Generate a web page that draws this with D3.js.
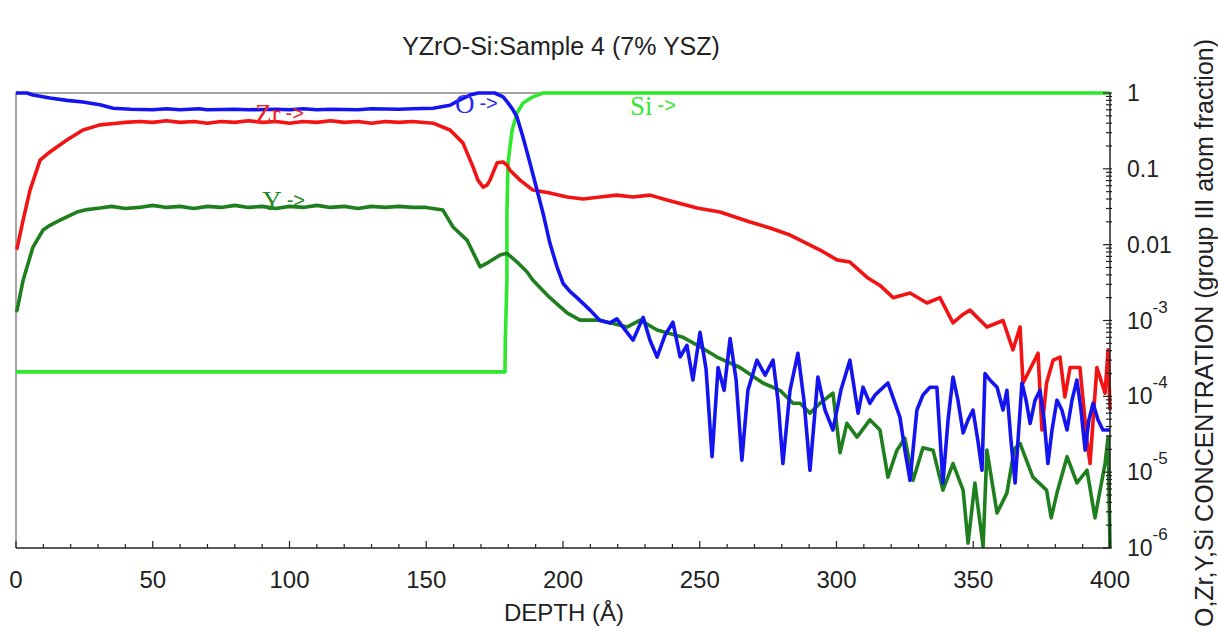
<!DOCTYPE html>
<html>
<head>
<meta charset="utf-8">
<style>
    body { margin: 0; background: #fff; }
    svg { display: block; font-family: "Liberation Sans", Arial, sans-serif; }
</style>
</head>
<body>
<svg width="1218" height="634"></svg>
<script src="https://cdn.jsdelivr.net/npm/d3@7"></script>
<script>
    // depth (Å), concentration (atom fraction)
    var oxygen = [[0,1.0],[4,1.0],[6.2,0.94],[12.4,0.86],[18.6,0.8],[24.5,0.76],[30.7,0.7],[35.5,0.63],[42,0.61],[50,0.6],[55,0.62],
        [60,0.6],[67,0.62],[70,0.6],[80,0.61],[85,0.6],[95,0.61],[100,0.6],[105,0.62],[110,0.6],[115,0.61],[125,0.6],[130,0.62],
        [140,0.61],[145,0.62],[152.5,0.63],[158.7,0.69],[162.3,0.81],[166,0.94],[169,1.0],[175,1.0],[178.1,0.89],[179.9,0.74],
        [181.7,0.6],[183.2,0.48],[185.4,0.26],[187.9,0.12],[190.5,0.0525],[192.7,0.026],[195.2,0.0105],[197.8,0.0051],[200,0.0031],
        [202.6,0.0024],[205.1,0.002],[209.9,0.00137],[213.5,1.0e-3],[217.2,9.3e-4],[219.7,1.05e-3],[222.7,7.5e-4],[225.6,5.5e-4],
        [229.3,1.1e-3],[231.8,5.5e-4],[234.4,3.3e-4],[237.3,6.4e-4],[240.2,9.5e-4],[242.8,3.3e-4],[245.3,4.7e-4],[247.5,1.64e-4],
        [250.1,7.0e-4],[252.3,2.3e-4],[254.5,1.6e-5],[256.7,2.4e-4],[258.9,1.2e-4],[261.1,5.8e-4],[263.3,1.64e-4],[265.4,1.44e-5],
        [267.6,1.2e-4],[270.9,3.0e-4],[273.9,1.9e-4],[276.8,3.0e-4],[278.6,8.9e-5],[280.4,1.3e-5],[283,1.2e-4],[285.9,3.7e-4],
        [288.1,8.9e-5],[290.3,1.06e-5],[293.2,1.8e-4],[295.8,6.6e-5],[298.7,3.6e-5],[301.6,1.2e-4],[304.9,3.0e-4],[307.9,6.0e-5],
        [309.7,1.32e-4],[312.2,8.1e-5],[314.1,1.04e-4],[315.9,1.2e-4],[318.8,1.5e-4],[321,8.9e-5],[323.2,5.3e-5],[325,1.95e-5],
        [326.9,7.8e-6],[329.4,6.6e-5],[331.6,1.04e-4],[334.2,1.32e-4],[336.7,1.32e-4],[338.9,7.2e-6],[340.8,4.9e-5],[342.6,1.8e-4],
        [344.4,8.9e-5],[346.3,3.3e-5],[348.1,4.9e-5],[349.9,6.6e-5],[351.7,2.6e-5],[353.2,1.06e-5],[354.3,2.0e-4],[356.1,1.64e-4],
        [358.7,1.32e-4],[360.9,6.6e-5],[362.3,1.2e-4],[363.8,2.6e-5],[365.3,7.2e-6],[367.8,1.5e-4],[369.3,8.9e-5],[370.8,4.4e-5],
        [372.6,8.9e-5],[374.4,1.2e-4],[375.9,4.9e-5],[377.3,1.3e-5],[378.8,3.6e-5],[380.6,8.9e-5],[382.4,6.6e-5],[384.3,3.6e-5],
        [386.1,8.9e-5],[387.9,1.64e-4],[389.4,6.6e-5],[390.9,1.95e-5],[392.3,4.9e-5],[393.8,8.1e-5],[395.6,4.9e-5],[397.4,3.6e-5],
        [399.3,3.6e-5],[400,3.6e-5]];

    var zirconium = [[0,0.0087],[0.4,0.009],[2.6,0.021],[5.1,0.052],[8.8,0.13],[12.4,0.167],[18.6,0.24],[24.5,0.325],[30.7,0.38],
        [36.9,0.4],[40,0.41],[45,0.42],[50,0.41],[55,0.43],[60,0.41],[65,0.42],[70,0.4],[75,0.42],[80,0.41],[85,0.43],[90,0.41],
        [95,0.42],[100,0.4],[105,0.42],[110,0.41],[115,0.43],[120,0.41],[125,0.42],[130,0.4],[135,0.42],[140,0.41],[145,0.42],
        [152.5,0.4],[158.7,0.325],[163.4,0.22],[167.1,0.106],[168.9,0.071],[170.8,0.0575],[172.2,0.061],[173.3,0.071],[175.9,0.12],
        [178.1,0.123],[179.5,0.112],[180.6,0.096],[184.3,0.071],[189,0.0525],[195.2,0.048],[201.5,0.0425],[207.3,0.04],[213.5,0.0425],
        [219.7,0.045],[225.6,0.0425],[231.8,0.045],[238,0.0388],[249,0.0304],[257.4,0.0269],[268.4,0.0199],[275.7,0.0166],[283,0.0134],
        [286.7,0.0115],[294,0.0085],[300.2,0.0063],[304.9,0.0059],[311.2,0.0037],[315.9,0.0029],[320.7,0.002],[326.9,0.0023],
        [333.1,0.0017],[337.8,0.002],[342.6,9.3e-4],[345.9,1.18e-3],[348.8,1.37e-3],[355,8.2e-4],[360.9,1.0e-3],[364.5,4.1e-4],
        [367.1,8.2e-4],[368.2,1.5e-4],[371.8,2.7e-4],[373.7,3.7e-4],[375.1,3.6e-5],[376.8,1.5e-4],[379.2,3.0e-4],[381.7,3.3e-4],
        [383.5,9.8e-5],[385.4,2.4e-4],[389,2.4e-4],[391.6,2.6e-5],[392.7,1.3e-5],[395.2,2.4e-4],[398.2,1.1e-4],[399.3,4.1e-4],
        [400,6.6e-5]];

    var yttrium = [[0,0.0013],[0.4,0.00137],[2.6,0.0034],[6.2,0.0093],[9.9,0.0156],[12.4,0.018],[16.1,0.0211],[22.3,0.0269],
        [26,0.029],[30.7,0.0304],[35,0.032],[40,0.03],[45,0.031],[50,0.033],[55,0.031],[60,0.032],[65,0.03],[70,0.032],[75,0.031],
        [80,0.033],[85,0.031],[90,0.032],[95,0.03],[100,0.032],[105,0.031],[110,0.033],[115,0.031],[120,0.032],[125,0.03],[130,0.032],
        [135,0.031],[140,0.032],[145,0.031],[150,0.031],[156.1,0.0286],[159.8,0.0171],[164.9,0.0115],[169.7,0.0051],[172.2,0.0057],
        [177,0.0073],[179.5,0.0077],[183.2,0.0059],[186.8,0.0044],[189,0.0034],[195.2,0.002],[201.5,0.00126],[206.2,0.00101],
        [213.5,0.00101],[223.4,0.00082],[228.2,0.00101],[234.4,0.00075],[243.9,0.0006],[250.1,0.00045],[256.3,0.00033],[264.7,0.00024],
        [273.1,0.00015],[279.3,0.00012],[284.1,8.1e-5],[286.7,8.1e-5],[290.3,6.0e-5],[294,8.1e-5],[298.7,1.1e-4],[301.3,1.8e-5],
        [303.8,4.4e-5],[307.5,2.9e-5],[312.2,4.9e-5],[315.9,3.6e-5],[318.8,8.6e-6],[322.1,1.95e-5],[325,2.8e-5],[328,7.8e-6],
        [331.6,2.1e-5],[335.3,1.95e-5],[338.9,5.8e-6],[342.6,1.3e-5],[346.3,5.8e-6],[348.1,1.16e-6],[350.6,7.2e-6],[353.6,1.05e-6],
        [355,1.95e-5],[358.7,2.9e-6],[362.3,5.3e-6],[365,2.0e-5],[367.1,2.4e-5],[371.8,8.6e-6],[376.8,5.8e-6],[378.5,2.5e-6],
        [380.6,5.3e-6],[384.3,1.6e-5],[387.9,7.2e-6],[391.6,1.06e-5],[394.5,2.5e-6],[398.2,1.3e-5],[399.3,2.9e-5],[400,1e-6]];

    var silicon = [[0,2.1e-4],[178.8,2.1e-4],[178.9,5.5e-4],[179.5,0.0034],[179.5,0.026],[179.9,0.12],[181.4,0.325],[183.2,0.545],
        [185.4,0.74],[189,0.89],[192.7,1.0],[400,1.0]];

    var xTicks = [0, 50, 100, 150, 200, 250, 300, 350, 400];
    var yTicks = [1, 0.1, 0.01, 1e-3, 1e-4, 1e-5, 1e-6];
    var yTickLabels = [["1", ""], ["0.1", ""], ["0.01", ""], ["10", "-3"], ["10", "-4"], ["10", "-5"], ["10", "-6"]];

    var svg = d3.select("svg"),
        plotLeft = 16, plotRight = 1110, plotTop = 93, plotBottom = 548;

    var x = d3.scaleLinear().domain([0, 400]).range([plotLeft, plotRight]);
    var y = d3.scaleLog().domain([1e-6, 1]).range([plotBottom, plotTop]);

    // title
    svg.append("text")
        .attr("x", 561).attr("y", 55)
        .attr("text-anchor", "middle")
        .attr("font-size", 25)
        .attr("fill", "#222")
        .text("YZrO-Si:Sample 4 (7% YSZ)");

    // frame (left + top, grey)
    svg.append("path")
        .attr("d", "M" + plotLeft + "," + plotBottom + "V" + plotTop + "H" + plotRight)
        .attr("fill", "none")
        .attr("stroke", "#888")
        .attr("stroke-width", 1.5);

    // series
    var line = d3.line()
        .x(function (d) { return x(d[0]); })
        .y(function (d) { return y(d[1]); });

    var series = [
        { data: silicon, color: "#2ee82e" },
        { data: yttrium, color: "#1f7f1f" },
        { data: zirconium, color: "#f21414" },
        { data: oxygen, color: "#1414f0" }
    ];

    svg.append("g")
        .selectAll("path")
        .data(series)
        .enter().append("path")
        .attr("d", function (d) { return line(d.data); })
        .attr("fill", "none")
        .attr("stroke", function (d) { return d.color; })
        .attr("stroke-width", 3.6)
        .attr("stroke-linejoin", "round");

    // bottom axis
    var xMinor = d3.range(0, 401, 10);
    var gx = svg.append("g").attr("stroke", "#222");
    gx.append("line").attr("x1", plotLeft).attr("x2", plotRight).attr("y1", plotBottom).attr("y2", plotBottom).attr("stroke-width", 1.5);
    gx.selectAll(".minor").data(xMinor).enter().append("line")
        .attr("x1", x).attr("x2", x)
        .attr("y1", plotBottom).attr("y2", function (d) { return d % 50 === 0 ? plotBottom - 7 : plotBottom - 4; })
        .attr("stroke-width", 1.2);
    svg.append("g").selectAll("text").data(xTicks).enter().append("text")
        .attr("x", x).attr("y", 588)
        .attr("text-anchor", "middle")
        .attr("font-size", 24)
        .attr("fill", "#222")
        .text(function (d) { return d; });
    svg.append("text")
        .attr("x", 564).attr("y", 621)
        .attr("text-anchor", "middle")
        .attr("font-size", 24)
        .attr("fill", "#222")
        .text("DEPTH (Å)");

    // right log axis
    var yMinor = [];
    for (var e = -6; e < 0; e++) {
        for (var m = 2; m <= 9; m++) yMinor.push(m * Math.pow(10, e));
    }
    var gy = svg.append("g").attr("stroke", "#222");
    gy.append("line").attr("x1", plotRight).attr("x2", plotRight).attr("y1", plotTop).attr("y2", plotBottom).attr("stroke-width", 1.5);
    gy.selectAll(".minor").data(yMinor).enter().append("line")
        .attr("x1", plotRight - 4).attr("x2", plotRight + 2)
        .attr("y1", y).attr("y2", y)
        .attr("stroke-width", 1.2);
    gy.selectAll(".major").data(yTicks).enter().append("line")
        .attr("x1", plotRight - 7).attr("x2", plotRight + 2)
        .attr("y1", y).attr("y2", y)
        .attr("stroke-width", 1.2);

    var yl = svg.append("g").selectAll("text").data(yTicks).enter().append("text")
        .attr("x", plotRight + 17)
        .attr("y", function (d) { return y(d) + 8; })
        .attr("font-size", 23)
        .attr("fill", "#222");
    yl.append("tspan").text(function (d, i) { return yTickLabels[i][0]; });
    yl.append("tspan")
        .attr("dy", -16)
        .attr("font-size", 17)
        .text(function (d, i) { return yTickLabels[i][1]; });

    svg.append("text")
        .attr("transform", "translate(1213,333) rotate(-90)")
        .attr("text-anchor", "middle")
        .attr("font-size", 25)
        .attr("fill", "#222")
        .text("O,Zr,Y,Si CONCENTRATION (group III atom fraction)");

    // series labels
    var labels = [
        { name: "Zr", depth: 87.4, conc: 0.40, color: "#ee2222" },
        { name: "O", depth: 160.5, conc: 0.545, color: "#2a2af0" },
        { name: "Y", depth: 90, conc: 0.0286, color: "#228822" },
        { name: "Si", depth: 224.5, conc: 0.51, color: "#33e833" }
    ];
    var lt = svg.append("g").selectAll("text").data(labels).enter().append("text")
        .attr("x", function (d) { return x(d.depth); })
        .attr("y", function (d) { return y(d.conc); })
        .attr("fill", function (d) { return d.color; });
    lt.append("tspan")
        .attr("font-family", "'Liberation Serif', 'Times New Roman', serif")
        .attr("font-size", 27)
        .text(function (d) { return d.name; });
    lt.append("tspan")
        .attr("dx", 5).attr("dy", -3)
        .attr("font-size", 20)
        .text("->");
</script>
</body>
</html>
